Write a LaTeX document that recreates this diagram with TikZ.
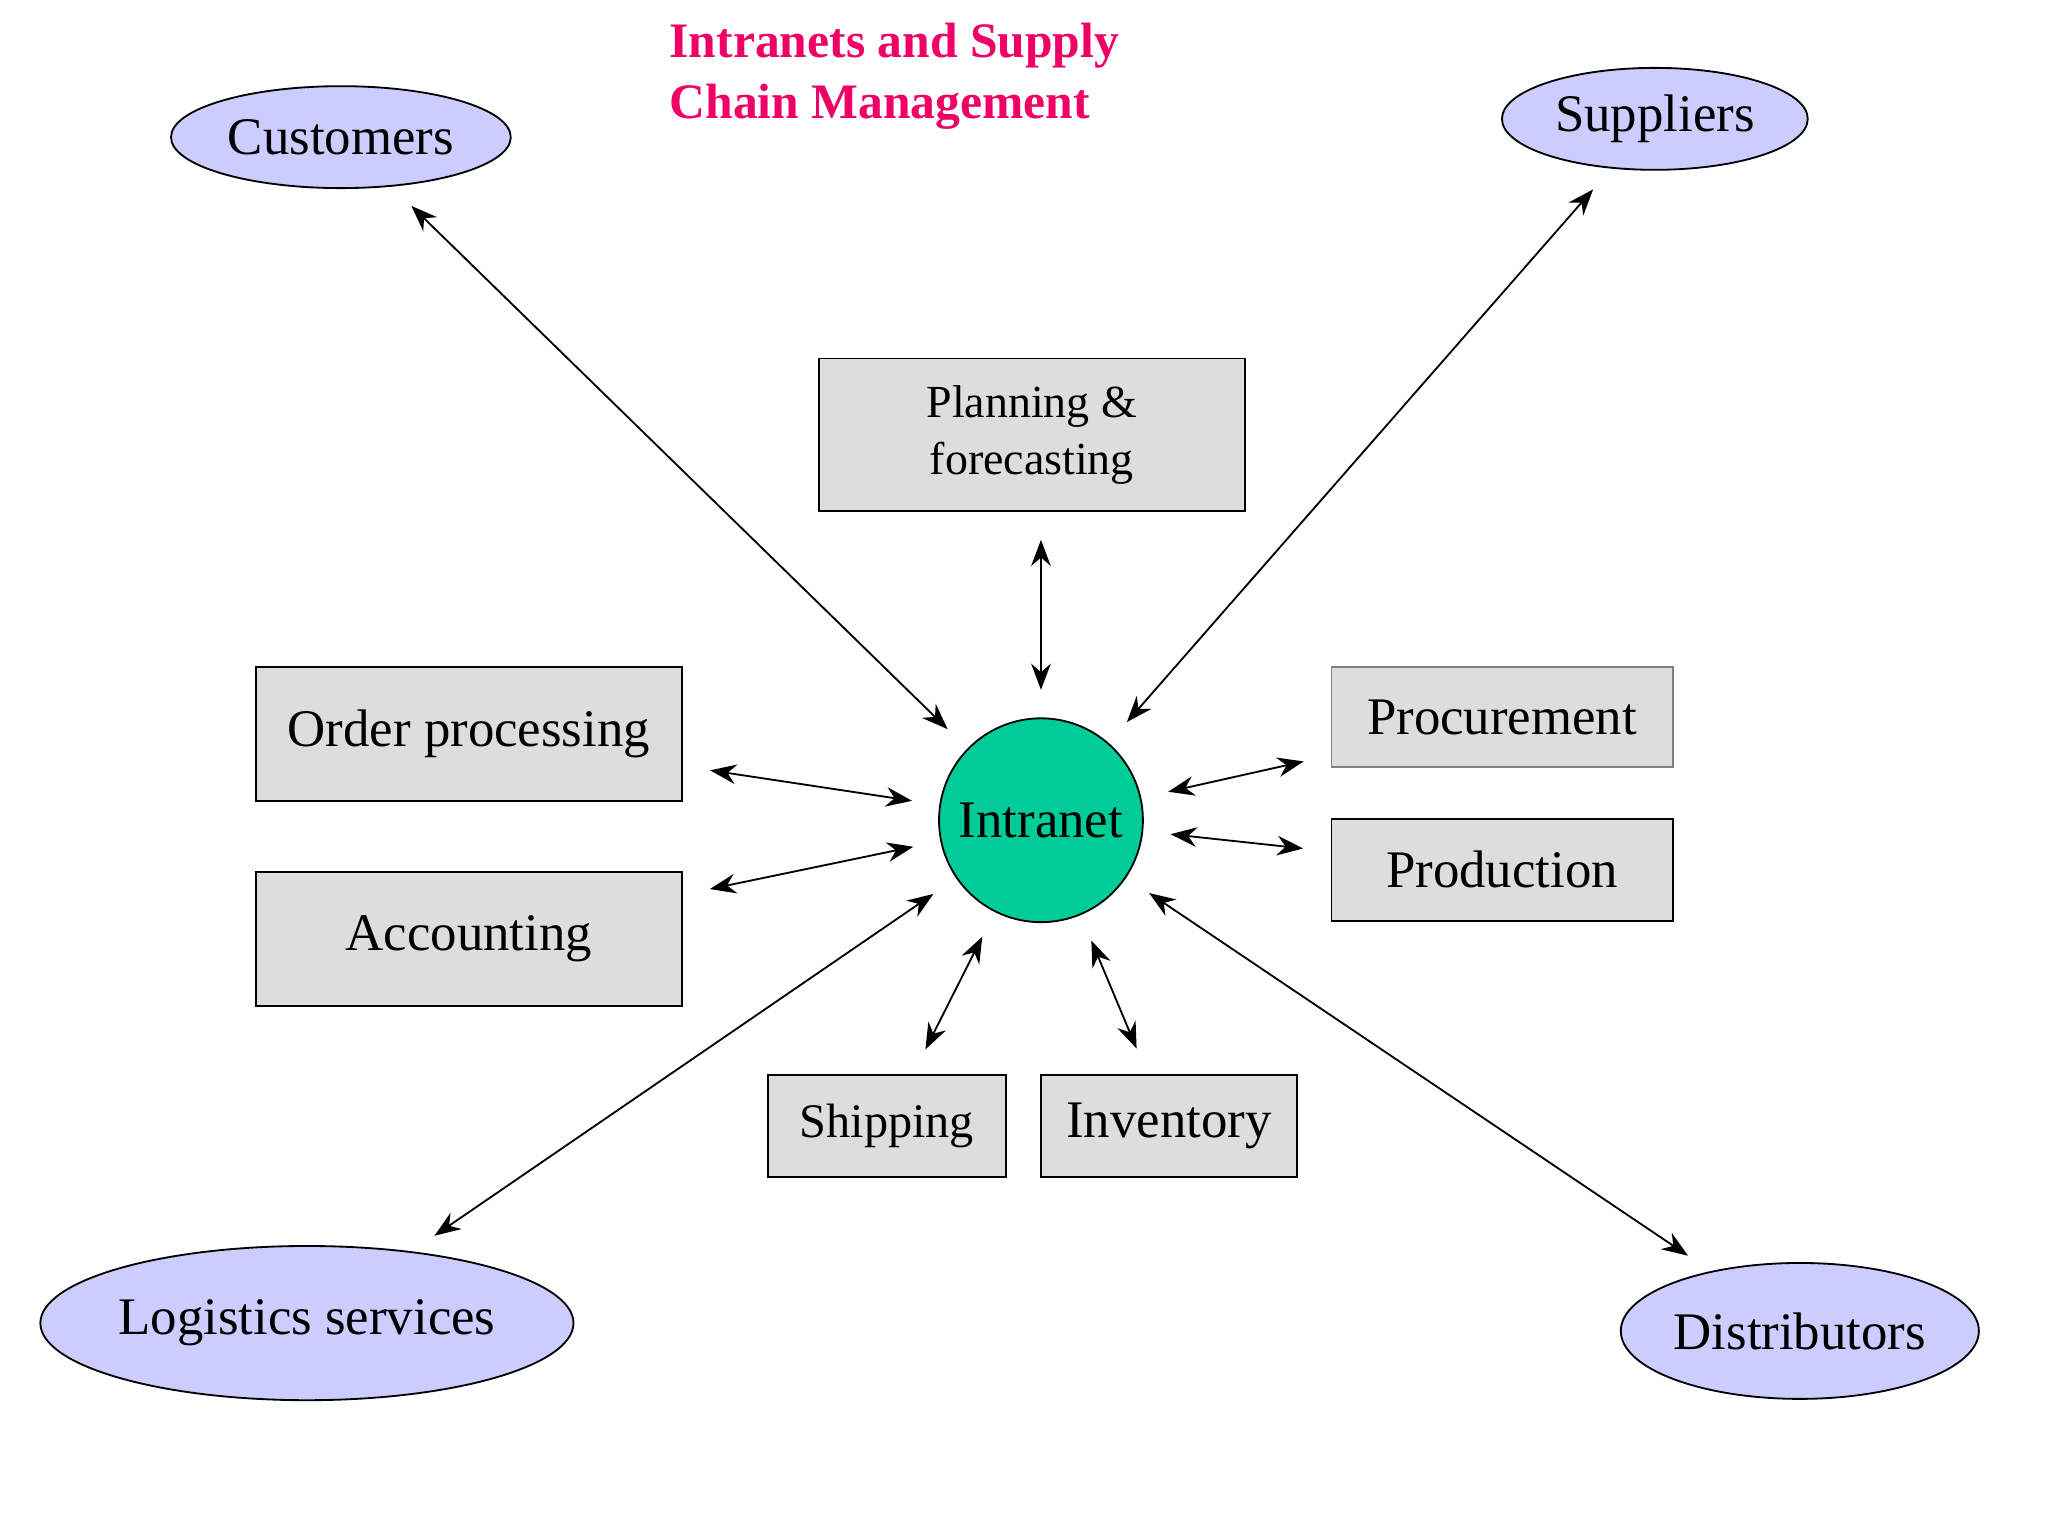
\documentclass[tikz,border=0pt]{standalone}
\usepackage{fontspec}
\setmainfont{Liberation Serif}
\usetikzlibrary{arrows.meta,positioning,shapes.geometric}
\definecolor{partner}{RGB}{204,204,255}
\definecolor{dept}{RGB}{221,221,221}
\definecolor{hub}{RGB}{0,204,153}
\definecolor{titlered}{RGB}{238,0,102}
\begin{document}
\begin{tikzpicture}[x=0.01cm,y=-0.01cm,font=\fontsize{11.5pt}{13pt}\selectfont]

\tikzset{partnernode/.style={shape=ellipse,draw=black,fill=partner,inner sep=0pt},
deptnode/.style={shape=rectangle,draw=black,fill=dept,inner sep=0pt,align=center},
link/.style={{Stealth[length=2mm,width=1.5mm]}-{Stealth[length=2mm,width=1.5mm]},thin,shorten >=6pt,shorten <=6pt}}

\useasboundingbox (0,0) rectangle (1568,1176);

% Title
\node[anchor=north west,text=titlered,font=\fontsize{10.8pt}{13.2pt}\selectfont\bfseries,align=left,inner sep=0pt] (title) at (512,17) {Intranets and Supply\\Chain Management};

% Centre
\node (intranet) [shape=circle,draw=black,fill=hub,minimum size=1.56cm,inner sep=0pt] at (797,628) {Intranet};

% Partner nodes
\node (customers) [partnernode,minimum width=2.6cm,minimum height=0.78cm] at (261,105) {Customers};
\node (suppliers) [partnernode,minimum width=2.34cm,minimum height=0.78cm] at (1267,91) {Suppliers};
\node (logistics) [partnernode,minimum width=3.38cm,minimum height=1.18cm] at (235,1013) {Logistics services};
\node (distributors) [partnernode,minimum width=2.74cm,minimum height=1.04cm] at (1378,1019) {Distributors};

% Department nodes
\node (planning) [deptnode,minimum width=3.26cm,minimum height=1.17cm,font=\fontsize{10pt}{12.5pt}\selectfont] at (790,333) {Planning \&\\forecasting};
\node (order) [deptnode,minimum width=3.26cm,minimum height=1.03cm] at (359,562) {Order processing};
\node (accounting) [deptnode,minimum width=3.26cm,minimum height=1.03cm] at (359,719) {Accounting};
\node (procurement) [deptnode,draw=black!50,minimum width=2.61cm,minimum height=0.77cm] at (1150,549) {Procurement};
\node (production) [deptnode,minimum width=2.61cm,minimum height=0.78cm] at (1150,666) {Production};
\node (shipping) [deptnode,minimum width=1.82cm,minimum height=0.78cm,font=\fontsize{10.5pt}{12pt}\selectfont] at (679,862) {Shipping};
\node (inventory) [deptnode,minimum width=1.96cm,minimum height=0.78cm] at (895,862) {Inventory};

% Links
\draw[link] (customers) -- (intranet);
\draw[link] (suppliers) -- (intranet);
\draw[link] (logistics) -- (intranet);
\draw[link] (distributors) -- (intranet);
\draw[link] (planning.south -| intranet) -- (intranet);
\draw[link] (order) -- (intranet);
\draw[link] (accounting) -- (intranet);
\draw[link] (procurement) -- (intranet);
\draw[link] (production) -- (intranet);
\draw[link] (shipping) -- (intranet);
\draw[link] (inventory) -- (intranet);

\end{tikzpicture}
\end{document}
